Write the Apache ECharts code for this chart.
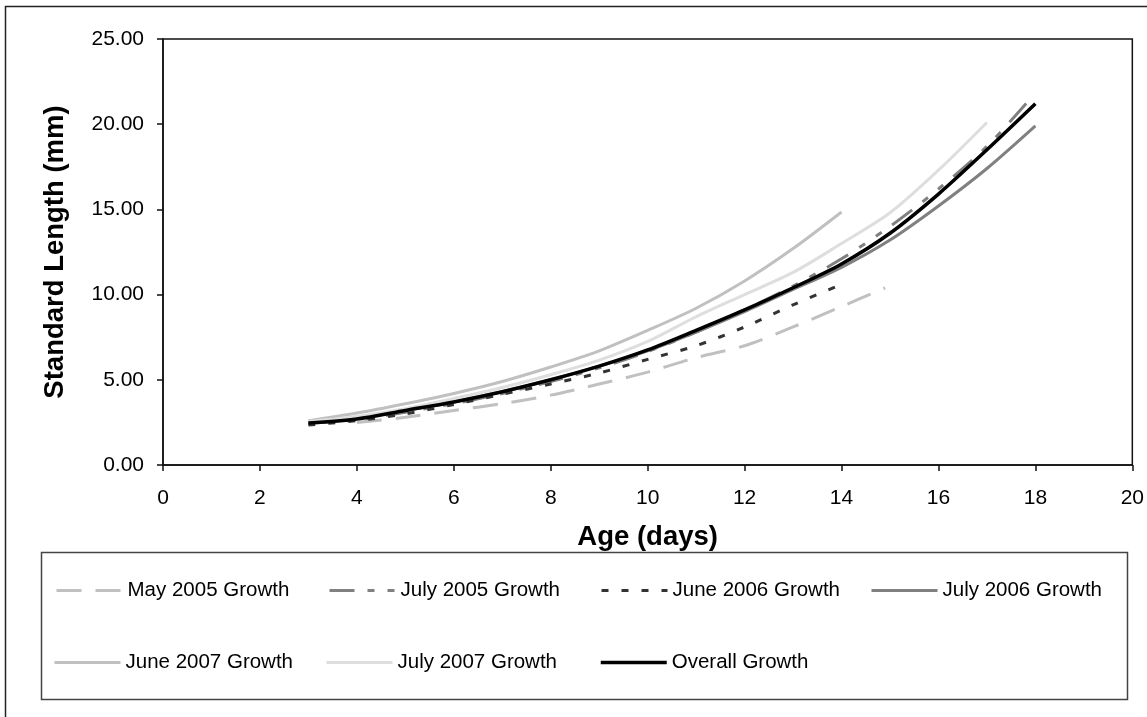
<!DOCTYPE html>
<html>
<head>
<meta charset="utf-8">
<script src="https://cdn.jsdelivr.net/npm/echarts@6/dist/echarts.min.js"></script>
<style>
html,body{margin:0;padding:0;background:#fff;}
#chart{width:1147px;height:717px;}
</style>
</head>
<body>
<div id="chart"></div>
<script>
// Series names
const seriesNames = ['May 2005 Growth','July 2005 Growth','June 2006 Growth','July 2006 Growth','June 2007 Growth','July 2007 Growth','Overall Growth'];

// Ages (days) and standard lengths (mm)
const daysMay2005 = [4, 5, 6, 7, 8, 9, 10, 11, 12, 13, 14, 14.9];
const lenMay2005  = [2.5, 2.8, 3.2, 3.6, 4.1, 4.75, 5.45, 6.3, 7.0, 8.1, 9.3, 10.4];

const daysJuly2005 = [3, 4, 5, 6, 7, 8, 9, 10, 11, 12, 13, 14, 15, 16, 17, 17.9];
const lenJuly2005  = [2.45, 2.65, 3.1, 3.6, 4.2, 4.9, 5.7, 6.65, 7.8, 9.1, 10.5, 12.1, 14.0, 16.2, 18.7, 21.5];

const daysJune2006 = [3, 4, 5, 6, 7, 8, 9, 10, 11, 12, 13, 14];
const lenJune2006  = [2.35, 2.6, 3.0, 3.55, 4.15, 4.75, 5.4, 6.2, 7.0, 8.1, 9.4, 10.6];

const daysJuly2006 = [3, 4, 5, 6, 7, 8, 9, 10, 11, 12, 13, 14, 15, 16, 17, 18];
const lenJuly2006  = [2.5, 2.75, 3.2, 3.7, 4.3, 5.0, 5.8, 6.7, 7.8, 9.0, 10.3, 11.6, 13.2, 15.2, 17.4, 19.9];

const daysJune2007 = [3, 4, 5, 6, 7, 8, 9, 10, 11, 12, 13, 14];
const lenJune2007  = [2.6, 3.05, 3.6, 4.2, 4.9, 5.75, 6.7, 7.9, 9.2, 10.8, 12.7, 14.85];

const daysJuly2007 = [3, 4, 5, 6, 7, 8, 9, 10, 11, 12, 13, 14, 15, 16, 17];
const lenJuly2007  = [2.55, 2.85, 3.3, 3.9, 4.55, 5.3, 6.15, 7.25, 8.7, 10.0, 11.3, 13.0, 14.8, 17.3, 20.1];

const daysOverall = [3, 4, 5, 6, 7, 8, 9, 10, 11, 12, 13, 14, 15, 16, 17, 18];
const lenOverall  = [2.46, 2.7, 3.2, 3.7, 4.3, 5.0, 5.8, 6.75, 7.9, 9.1, 10.4, 11.8, 13.6, 15.9, 18.5, 21.2];

const xTicks = {min: 0, max: 20, interval: 2};
const yTicks = {min: 0, max: 25, interval: 5};

function pairs(xs, ys){ return xs.map((x,i)=>[x, ys[i]]); }

const FONT = '"Liberation Sans", Arial, sans-serif';

const styles = [
  {color:'#c0c0c0', width:3, type:[25,14]},
  {color:'#808080', width:3, type:[25,13,7,13,7,13]},
  {color:'#333333', width:3, type:[7,13]},
  {color:'#808080', width:3, type:'solid'},
  {color:'#c0c0c0', width:3, type:'solid'},
  {color:'#dedede', width:3, type:'solid'},
  {color:'#000000', width:3.5, type:'solid'}
];
const dataSets = [
  pairs(daysMay2005, lenMay2005),
  pairs(daysJuly2005, lenJuly2005),
  pairs(daysJune2006, lenJune2006),
  pairs(daysJuly2006, lenJuly2006),
  pairs(daysJune2007, lenJune2007),
  pairs(daysJuly2007, lenJuly2007),
  pairs(daysOverall, lenOverall)
];

const legendPos = [
  {left:55, top:580}, {left:328, top:580}, {left:600, top:580}, {left:870, top:580},
  {left:53, top:652}, {left:325, top:652}, {left:599, top:652}
];

const chart = echarts.init(document.getElementById('chart'), null, {renderer:'canvas'});
chart.setOption({
  animation: false,
  backgroundColor: '#ffffff',
  textStyle: {fontFamily: FONT},
  grid: {left:163, top:39, right:13, bottom:252, show:true, borderColor:'#111', borderWidth:1.5, backgroundColor:'transparent'},
  xAxis: {
    type:'value', min:xTicks.min, max:xTicks.max, interval:xTicks.interval,
    name:'Age (days)', nameLocation:'middle', nameGap:58,
    nameTextStyle:{fontFamily:FONT, fontSize:27.5, fontWeight:'bold', color:'#000'},
    axisLine:{show:true, onZero:false, lineStyle:{color:'#111', width:1.5}},
    axisTick:{show:true, inside:false, length:6, lineStyle:{color:'#111', width:1.5}},
    axisLabel:{fontFamily:FONT, fontSize:21, color:'#000', margin:23},
    splitLine:{show:false}
  },
  yAxis: {
    type:'value', min:yTicks.min, max:yTicks.max, interval:yTicks.interval,
    name:'Standard Length (mm)', nameLocation:'middle', nameGap:94,
    nameTextStyle:{fontFamily:FONT, fontSize:27.5, fontWeight:'bold', color:'#000'},
    axisLine:{show:true, lineStyle:{color:'#111', width:1.5}},
    axisTick:{show:true, inside:false, length:6, lineStyle:{color:'#111', width:1.5}},
    axisLabel:{fontFamily:FONT, fontSize:21, color:'#000', margin:19, formatter:(v)=>v.toFixed(2)},
    splitLine:{show:false}
  },
  legend: seriesNames.map((n,i)=>({
    data:[n], left:legendPos[i].left, top:legendPos[i].top, orient:'horizontal',
    padding:0, itemWidth:66, itemHeight:14, itemGap:0, selectedMode:false,
    itemStyle:{opacity:0},
    lineStyle:{width:styles[i].width},
    textStyle:{fontFamily:FONT, fontSize:20.5, color:'#000', lineHeight:21}
  })),
  graphic: [
    {type:'rect', silent:true, z:-1, shape:{x:5.5, y:6.5, width:1160, height:730}, style:{fill:'none', stroke:'#222', lineWidth:1.5}},
    {type:'rect', silent:true, z:-1, shape:{x:41.5, y:552.5, width:1086, height:147}, style:{fill:'none', stroke:'#444', lineWidth:1.5}}
  ],
  series: seriesNames.map((n,i)=>({
    name:n, type:'line', data:dataSets[i], symbol:'none', showSymbol:false,
    smooth:0.3, z: 2+i,
    lineStyle:{color:styles[i].color, width:styles[i].width, type:styles[i].type, cap:'butt'},
    itemStyle:{color:styles[i].color}
  }))
});
</script>
</body>
</html>
